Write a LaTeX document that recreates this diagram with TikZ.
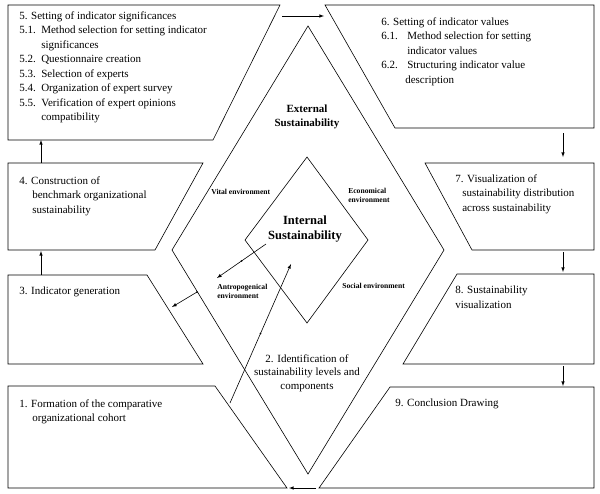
\documentclass[tikz,border=0pt]{standalone}
\usepackage{fontspec}
\setmainfont{Liberation Serif}
\usepackage{tikz}
\usetikzlibrary{arrows, positioning, arrows.meta, decorations.markings}

\tikzset{
    box/.style={draw, line width=0.6pt},
    steptext/.style={anchor=north west, align=left, inner sep=0pt, font=\fontsize{11}{14.5}\selectfont},
    envtext/.style={anchor=west, align=left, inner sep=0pt, font=\fontsize{7.6}{9}\selectfont\bfseries},
    middot/.style={postaction={decorate}, decoration={markings, mark=at position 0.5 with {\fill (0,0) circle (1pt);}}}
}

\begin{document}
\begin{tikzpicture}[x=1pt, y=-1pt, >=latex, line width=0.6pt]
    \useasboundingbox (0,0) rectangle (600,493);

    % Diamonds
    \draw[box] (308,26) -- (444,250) -- (308,474) -- (172,250) -- cycle;
    \draw[box] (307,157) -- (368,240) -- (307,323) -- (245,240) -- cycle;

    % Step boxes, left side
    \draw[box] (8,5) -- (280,5) -- (213,140) -- (8,140) -- cycle;
    \draw[box] (8,163) -- (203,163) -- (155,250) -- (8,250) -- cycle;
    \draw[box] (8,275) -- (147,275) -- (203,364) -- (8,364) -- cycle;
    \draw[box] (8,386) -- (215,386) -- (287,488) -- (8,488) -- cycle;

    % Step boxes, right side
    \draw[box] (325,5) -- (594,5) -- (594,128) -- (395,128) -- cycle;
    \draw[box] (425,163) -- (594,163) -- (594,250) -- (472,250) -- cycle;
    \draw[box] (457,274) -- (594,274) -- (594,364) -- (403,364) -- cycle;
    \draw[box] (390,387) -- (594,387) -- (594,488) -- (319,488) -- cycle;

    % Step texts
    \node (s5) [steptext] at (19,11) {5. Setting of indicator significances\\
        \makebox[22pt][l]{5.1.}Method selection for setting indicator\\
        \hspace*{22pt}significances\\
        \makebox[22pt][l]{5.2.}Questionnaire creation\\
        \makebox[22pt][l]{5.3.}Selection of experts\\
        \makebox[22pt][l]{5.4.}Organization of expert survey\\
        \makebox[22pt][l]{5.5.}Verification of expert opinions\\
        \hspace*{22pt}compatibility};
    \node (s4) [steptext] at (19,176) {4. Construction of\\
        \hspace*{13pt}benchmark organizational\\
        \hspace*{13pt}sustainability};
    \node (s3) [steptext] at (19,287) {3. Indicator generation};
    \node (s1) [steptext] at (19,399) {1. Formation of the comparative\\
        \hspace*{13pt}organizational cohort};
    \node (s6) [steptext] at (381,17) {6. Setting of indicator values\\
        \makebox[26pt][l]{6.1.}Method selection for setting\\
        \hspace*{26pt}indicator values\\
        \makebox[26pt][l]{6.2.}Structuring indicator value\\
        \hspace*{24pt}description};
    \node (s7) [steptext] at (455,174) {7. Visualization of\\
        \hspace*{7pt}sustainability distribution\\
        \hspace*{7pt}across sustainability};
    \node (s8) [steptext] at (455,286) {8. Sustainability\\visualization};
    \node (s9) [steptext] at (395,399) {9. Conclusion Drawing};
    \node (s2) [align=center, inner sep=0pt, font=\fontsize{11}{13.5}\selectfont] at (307,373)
        {2. Identification of\\sustainability levels and\\components};

    % Sustainability levels and environments
    \node (ext) [align=center, inner sep=0pt, font=\fontsize{11}{13.5}\selectfont\bfseries] at (307,117)
        {External\\Sustainability};
    \node (int) [align=center, inner sep=0pt, font=\fontsize{12.5}{15}\selectfont\bfseries] at (305,229)
        {Internal\\Sustainability};
    \node (vital) [envtext] at (211,192) {Vital environment};
    \node (econ) [envtext] at (348,195) {Economical\\environment};
    \node (antro) [envtext] at (217,291) {Antropogenical\\environment};
    \node (social) [envtext] at (342,286) {Social environment};

    % Arrow ends
    \coordinate (s5out) at (282,16);
    \coordinate (s6in) at (324,16);
    \coordinate (s6out) at (563,133);
    \coordinate (s7in) at (563,157);
    \coordinate (s7out) at (563,252);
    \coordinate (s8in) at (563,272);
    \coordinate (s8out) at (563,366);
    \coordinate (s9in) at (563,386);
    \coordinate (s9out) at (316,488);
    \coordinate (s1in) at (289,488);
    \coordinate (s3out) at (41,275);
    \coordinate (s4in) at (41,251);
    \coordinate (s4out) at (41,163);
    \coordinate (s5in) at (41,140);
    \coordinate (s1out) at (230,403);
    \coordinate (intin) at (291,264);
    \coordinate (intout) at (266,244);
    \coordinate (antroin) at (217,278);
    \coordinate (extout) at (197,292);
    \coordinate (s3in) at (172,307);

    % Arrows
    \draw[->] (s5out) -- (s6in);
    \draw[->] (s6out) -- (s7in);
    \draw[->] (s7out) -- (s8in);
    \draw[->] (s8out) -- (s9in);
    \draw[->] (s9out) -- (s1in);
    \draw[->] (s3out) -- (s4in);
    \draw[->] (s4out) -- (s5in);
    \draw[->, middot] (s1out) -- (intin);
    \draw[->, middot] (intout) -- (antroin);
    \fill (extout) circle (1pt);
    \draw[->] (extout) -- (s3in);

\end{tikzpicture}
\end{document}
